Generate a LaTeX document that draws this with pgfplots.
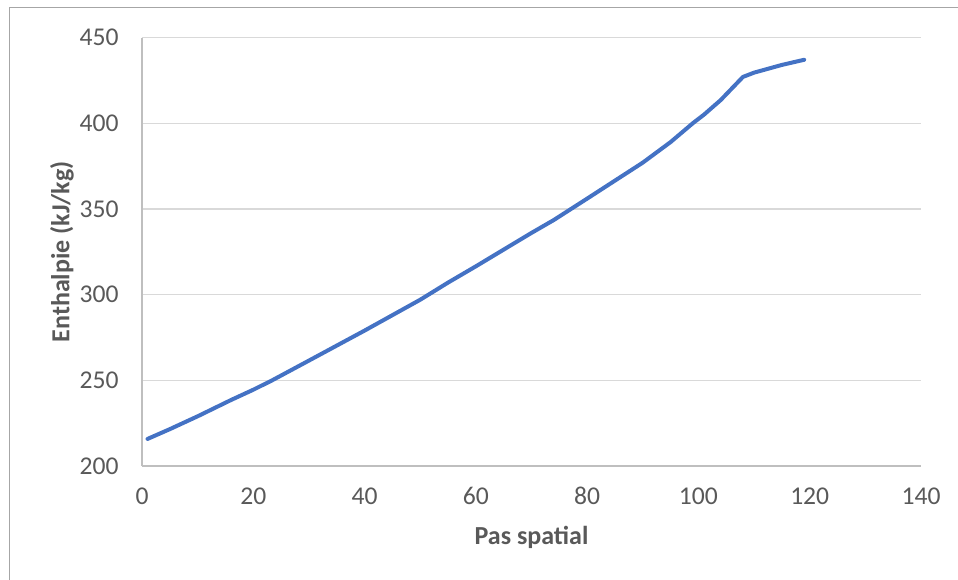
\documentclass[border=0pt]{standalone}
\usepackage{pgfplots}
\pgfplotsset{compat=1.18}
\usepackage{fontspec}
\setmainfont{Carlito}
\definecolor{tickgray}{HTML}{595959}
\definecolor{gridgray}{HTML}{D9D9D9}
\definecolor{axisgray}{HTML}{BFBFBF}
\definecolor{framegray}{HTML}{A6A6A6}
\definecolor{lineblue}{HTML}{4472C4}
\begin{document}
\begin{tikzpicture}
\useasboundingbox (0,0) rectangle (479pt,289.5pt);
\begin{scope}
\clip (0,0) rectangle (479pt,289.5pt);
\draw[framegray, line width=0.6pt] (4.75pt,-20pt) rectangle (520pt,285.75pt);
\end{scope}
\begin{axis}[
  at={(71pt,56.5pt)}, anchor=south west,
  scale only axis, width=389.5pt, height=214.25pt,
  xmin=0, xmax=140, ymin=200, ymax=450,
  xtick={0,20,...,140}, ytick={200,250,...,450},
  axis x line*=bottom, axis y line*=left,
  axis line style={axisgray, line width=0.6pt, -},
  ymajorgrids, grid style={gridgray, line width=0.6pt},
  major tick length=0pt,
  tick label style={font=\fontsize{12.8}{15}\selectfont, text=tickgray},
  /pgf/number format/assume math mode=true,
  every y tick label/.append style={anchor=east, inner sep=0pt, xshift=-11.5pt},
  every x tick label/.append style={anchor=north, inner sep=0pt, yshift=-10.5pt},
  xlabel={Pas spatial}, ylabel={Enthalpie (kJ/kg)},
  label style={font=\fontsize{13}{15}\selectfont\bfseries, text=tickgray},
  x label style={at={(axis description cs:0.5,-0.1657)}, anchor=center},
  y label style={at={(axis description cs:-0.1027,0.5)}, anchor=center},
  clip=false,
]
\addplot[lineblue, line width=2pt, line join=round, line cap=round] coordinates {
(1,215.8) (5,221.5) (10,229) (16,238.5) (20,244.5) (23.4,250) (30,261.5) (40,279)
(50,297) (55,307) (60,316.5) (70,336) (74,343.5) (80,356) (90,377) (95,389)
(99,400) (101,405) (104,413.5) (108,427) (110,429.5) (115,434) (119,437)
};
\end{axis}
\end{tikzpicture}
\end{document}
